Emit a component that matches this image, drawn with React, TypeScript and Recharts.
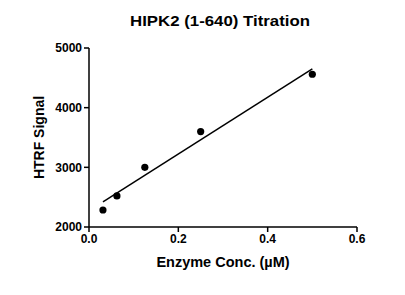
import React from 'react';
import { ComposedChart, Scatter, Line, XAxis, YAxis } from 'recharts';

const concentrations = [0.03125, 0.0625, 0.125, 0.25, 0.5];
const signals = [2285, 2520, 3000, 3600, 4560];
const xTicks = [0, 0.2, 0.4, 0.6];
const yTicks = [2000, 3000, 4000, 5000];

const points = concentrations.map((x, i) => ({ x, y: signals[i] }));

// least-squares linear fit of the measured points
const n = concentrations.length;
const mx = concentrations.reduce((a, b) => a + b, 0) / n;
const my = signals.reduce((a, b) => a + b, 0) / n;
let sxy = 0;
let sxx = 0;
for (let i = 0; i < n; i++) {
  sxy += (concentrations[i] - mx) * (signals[i] - my);
  sxx += (concentrations[i] - mx) ** 2;
}
const slope = sxy / sxx;
const intercept = my - slope * mx;
const fitX = [concentrations[0], concentrations[n - 1]];
const fit = fitX.map((x) => ({ x, y: intercept + slope * x }));

const font = '"Liberation Sans", Arial, sans-serif';
const tickStyle = { fill: '#000', fontSize: 12, fontWeight: 700, fontFamily: font };

const YLabel = (props: any) => {
  const vb = props.viewBox || {};
  const cx = 39;
  const cy = vb.y + vb.height / 2;
  return (
    <text
      x={cx}
      y={cy}
      transform={`rotate(-90, ${cx}, ${cy})`}
      textAnchor="middle"
      dominantBaseline="central"
      fill="#000"
      style={{ fontSize: 14, fontWeight: 700, fontFamily: font }}
    >
      HTRF Signal
    </text>
  );
};

export default function App() {
  return (
    <div style={{ position: 'absolute', left: 0, top: 0, width: 405, height: 295, background: '#fff' }}>
      <div
        style={{
          position: 'absolute',
          left: 0,
          width: 440,
          top: 12,
          textAlign: 'center',
          fontFamily: font,
          fontWeight: 700,
          fontSize: 15,
          lineHeight: '18px',
          color: '#000',
          transform: 'scaleX(1.12)',
          transformOrigin: '220px 0',
        }}
      >
        HIPK2 (1-640) Titration
      </div>
      <ComposedChart
        width={405}
        height={295}
        margin={{ top: 48, right: 48, bottom: 0, left: 0 }}
      >
        <XAxis
          dataKey="x"
          type="number"
          domain={[0, 0.6]}
          ticks={xTicks}
          tickFormatter={(v: number) => v.toFixed(1)}
          stroke="#000"
          strokeWidth={1.5}
          tickSize={5}
          tick={tickStyle}
          allowDuplicatedCategory={false}
          label={{
            value: 'Enzyme Conc. (\u00b5M)',
            position: 'insideBottom',
            offset: 28,
            fill: '#000',
            style: { fill: '#000', fontSize: 14.5, fontWeight: 700, fontFamily: font, textAnchor: 'middle' },
          }}
          height={68}
        />
        <YAxis
          dataKey="y"
          type="number"
          domain={[2000, 5000]}
          ticks={yTicks}
          stroke="#000"
          strokeWidth={1.5}
          tickSize={5}
          tick={tickStyle}
          width={89}
          label={<YLabel />}
        />
        <Line
          data={fit}
          dataKey="y"
          stroke="#000"
          strokeWidth={1.5}
          dot={false}
          activeDot={false}
          type="linear"
          isAnimationActive={false}
        />
        <Scatter data={points} dataKey="y" fill="#000" isAnimationActive={false} shape={(p: any) => <circle cx={p.cx} cy={p.cy} r={3.6} fill="#000" />} />
      </ComposedChart>
    </div>
  );
}
